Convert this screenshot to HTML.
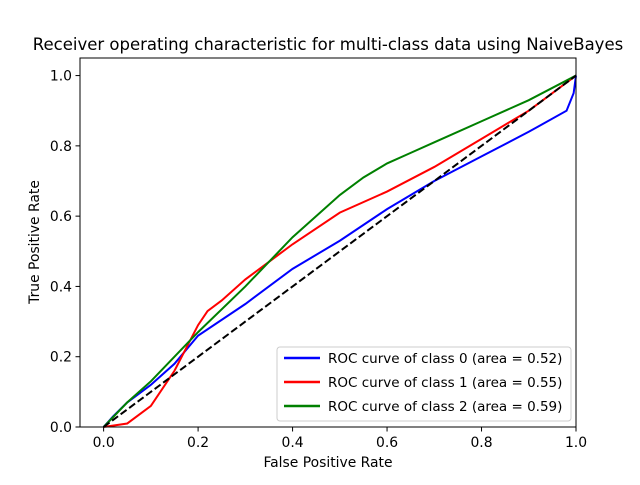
<!DOCTYPE html>
<html><head><meta charset="utf-8"><style>
body{margin:0;background:#fff}
svg text{font-family:"DejaVu Sans","Liberation Sans",sans-serif;fill:#000}
</style></head><body>
<svg id="chart" width="640" height="480" xmlns="http://www.w3.org/2000/svg">
<rect width="640" height="480" fill="#fff"/>
<text x="328" y="50" font-size="16.5" text-anchor="middle">Receiver operating characteristic for multi-class data using NaiveBayes</text>
<g id="plot"></g>
<rect x="80" y="58" width="496" height="369" fill="none" stroke="#000" stroke-width="1"/>
<text x="328" y="467" font-size="13.9" text-anchor="middle">False Positive Rate</text>
<text x="39" y="242" font-size="13.9" text-anchor="middle" transform="rotate(-90 39 242)">True Positive Rate</text>
<g id="ticks"></g>
<g>
<rect x="277" y="347" width="294" height="74" rx="3" fill="#fff" fill-opacity="0.8" stroke="#ccc"/>
<line x1="284" y1="358" x2="320" y2="358" stroke="#0000ff" stroke-width="2.5"/>
<text x="328" y="363" font-size="13.5">ROC curve of class 0 (area = 0.52)</text>
<line x1="284" y1="382" x2="320" y2="382" stroke="#ff0000" stroke-width="2.5"/>
<text x="328" y="387" font-size="13.5">ROC curve of class 1 (area = 0.55)</text>
<line x1="284" y1="406" x2="320" y2="406" stroke="#008000" stroke-width="2.5"/>
<text x="328" y="411" font-size="13.5">ROC curve of class 2 (area = 0.59)</text>
</g>
</svg>
<script>
const fpr0=[0,0.02,0.05,0.1,0.15,0.2,0.3,0.4,0.5,0.6,0.7,0.8,0.9,0.98,0.995,1];
const tpr0=[0,0.03,0.07,0.12,0.18,0.26,0.35,0.45,0.53,0.62,0.7,0.77,0.84,0.9,0.95,1];
const fpr1=[0,0.05,0.1,0.15,0.2,0.22,0.25,0.3,0.4,0.5,0.6,0.7,0.8,0.9,1];
const tpr1=[0,0.01,0.06,0.16,0.29,0.33,0.36,0.42,0.52,0.61,0.67,0.74,0.82,0.9,1];
const fpr2=[0,0.05,0.1,0.15,0.2,0.3,0.4,0.5,0.55,0.6,0.65,0.7,0.8,0.9,1];
const tpr2=[0,0.07,0.13,0.2,0.27,0.4,0.54,0.66,0.71,0.75,0.78,0.81,0.87,0.93,1];
const xTicks=["0.0","0.2","0.4","0.6","0.8","1.0"];
const yTicks=["0.0","0.2","0.4","0.6","0.8","1.0"];
const NS="http://www.w3.org/2000/svg";
const X=v=>80+(v+0.05)/1.05*496;
const Y=v=>427-v/1.05*369;
const plot=document.getElementById('plot');
function line(xs,ys,color,name,dash){
  const p=document.createElementNS(NS,'polyline');
  p.setAttribute('points',xs.map((x,i)=>X(x)+','+Y(ys[i])).join(' '));
  p.setAttribute('fill','none');p.setAttribute('stroke',color);p.setAttribute('stroke-width','2');
  if(dash)p.setAttribute('stroke-dasharray',dash);
  
  
  plot.appendChild(p);
}
line(fpr0,tpr0,'#0000ff','roc-curve-class-0');
line(fpr1,tpr1,'#ff0000','roc-curve-class-1');
line(fpr2,tpr2,'#008000','roc-curve-class-2');
line([0,1],[0,1],'#000','chance-diagonal','7.4,3.2');
const tg=document.getElementById('ticks');
xTicks.forEach(t=>{
  const x=X(parseFloat(t));
  const l=document.createElementNS(NS,'line');
  l.setAttribute('x1',x);l.setAttribute('x2',x);l.setAttribute('y1',427);l.setAttribute('y2',431.5);l.setAttribute('stroke','#000');
  
  
  tg.appendChild(l);
  const s=document.createElementNS(NS,'text');
  s.setAttribute('x',x);s.setAttribute('y',447);s.setAttribute('font-size','13.9');s.setAttribute('text-anchor','middle');
  s.textContent=t;
  
  
  tg.appendChild(s);
});
yTicks.forEach(t=>{
  const y=Y(parseFloat(t));
  const l=document.createElementNS(NS,'line');
  l.setAttribute('x1',75.5);l.setAttribute('x2',80);l.setAttribute('y1',y);l.setAttribute('y2',y);l.setAttribute('stroke','#000');
  
  
  tg.appendChild(l);
  const s=document.createElementNS(NS,'text');
  s.setAttribute('x',72);s.setAttribute('y',y+5);s.setAttribute('font-size','13.9');s.setAttribute('text-anchor','end');
  s.textContent=t;
  
  
  tg.appendChild(s);
});
</script>
</body></html>
